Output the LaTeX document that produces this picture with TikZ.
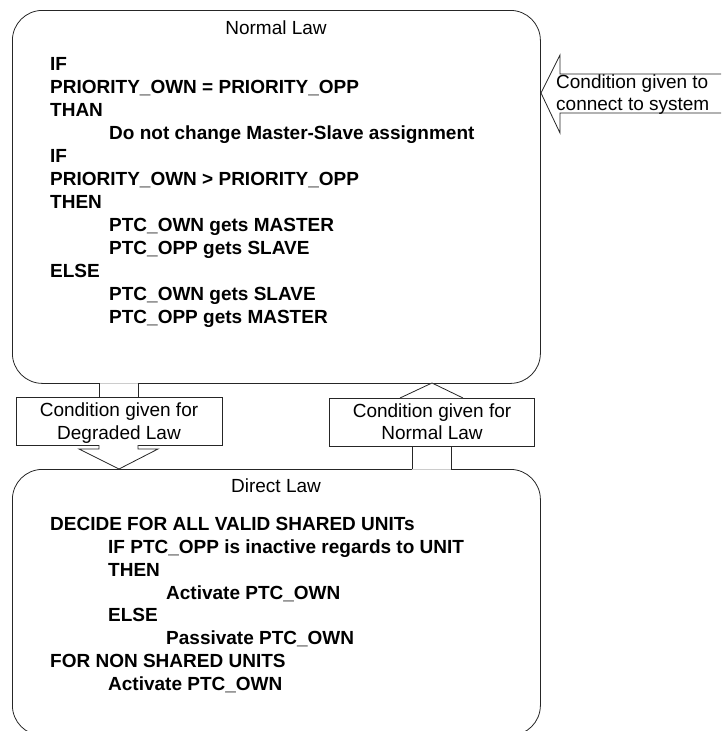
\documentclass[tikz,border=0pt]{standalone}
\usepackage{fontspec}
\setmainfont{Liberation Sans}
\begin{document}
\begin{tikzpicture}[x=1pt,y=-1pt,
  frame/.style={draw=black!85, line width=0.8pt},
  lawbox/.style={frame, rounded corners=30pt, inner sep=0pt, minimum width=528pt, anchor=north west},
  condbox/.style={frame, fill=white, inner sep=0pt, minimum width=206pt, minimum height=48pt, anchor=north west},
  txt/.style={inner sep=0pt, font=\fontsize{19}{23}\selectfont},
  code/.style={inner sep=0pt, font=\fontsize{19}{23}\selectfont\bfseries, anchor=base west},
  title/.style={txt, anchor=base},
  seam/.style={draw=black!20, line width=0.8pt}
]
\useasboundingbox (0,0) rectangle (721,731);
\clip (0,0) rectangle (721,731);

% the two law boxes
\node[lawbox, minimum height=373pt] (normal) at (12,10) {};
\node[lawbox, minimum height=266pt] (direct) at (12,469) {};

\node[title] (normaltitle) at (276,34.8) {Normal Law};
\node[title] (directtitle) at (276,492.8) {Direct Law};

% normal law rules
\foreach \ind/\t [count=\i] in {
  0/IF,
  0/PRIORITY\_OWN = PRIORITY\_OPP,
  0/THAN,
  1/Do not change Master-Slave assignment,
  0/IF,
  0/PRIORITY\_OWN > PRIORITY\_OPP,
  0/THEN,
  1/PTC\_OWN gets MASTER,
  1/PTC\_OPP gets SLAVE,
  0/ELSE,
  1/PTC\_OWN gets SLAVE,
  1/PTC\_OPP gets MASTER}
  \node[code] (nl\i) at ({50+59*\ind},{70.8+23*(\i-1)}) {\t};

% direct law rules
\foreach \ind/\t [count=\i] in {
  0/DECIDE FOR ALL VALID SHARED UNITs,
  1/IF PTC\_OPP is inactive regards to UNIT,
  1/THEN,
  2/Activate PTC\_OWN,
  1/ELSE,
  2/Passivate PTC\_OWN,
  0/FOR NON SHARED UNITS,
  1/Activate PTC\_OWN}
  \node[code] (dl\i) at ({50+58*\ind},{530.8+22.75*(\i-1)}) {\t};

% transition conditions
\node[condbox] (degraded) at (16,397) {};
\node[txt, anchor=base] (degraded1) at (119,416.8) {Condition given for};
\node[txt, anchor=base] (degraded2) at (119,439.8) {Degraded Law};

\node[condbox, minimum width=205pt] (tonormal) at (329,398) {};
\node[txt, anchor=base] (tonormal1) at (432,417.8) {Condition given for};
\node[txt, anchor=base] (tonormal2) at (432,439.8) {Normal Law};

% block arrow: normal law -> direct law
\fill[white] (99.4,381) rectangle (137.6,385);
\draw[seam] (99,383) -- (138,383);
\draw[frame] (99,383) -- (99,397) (138,383) -- (138,397);
\draw[frame, fill=white] (99,445) -- (99,449) -- (79,449) -- (119,469)
  -- (158,449) -- (138,449) -- (138,445);

% block arrow: direct law -> normal law
\draw[frame, fill=white] (400,398) -- (432,383) -- (463,398);
\fill[white] (412.4,467) rectangle (450.6,471);
\draw[seam] (412,469) -- (451,469);
\draw[frame] (412,446) -- (412,469) (451,446) -- (451,469);

% entry arrow from outside
\draw[frame, fill=white] (725,74) -- (560,74) -- (560,55) -- (541,93)
  -- (560,133) -- (560,113) -- (725,113);
\node[txt, anchor=base west] (conn1) at (556,88.8) {Condition given to};
\node[txt, anchor=base west] (conn2) at (556,110.8) {connect to system};
\end{tikzpicture}
\end{document}
